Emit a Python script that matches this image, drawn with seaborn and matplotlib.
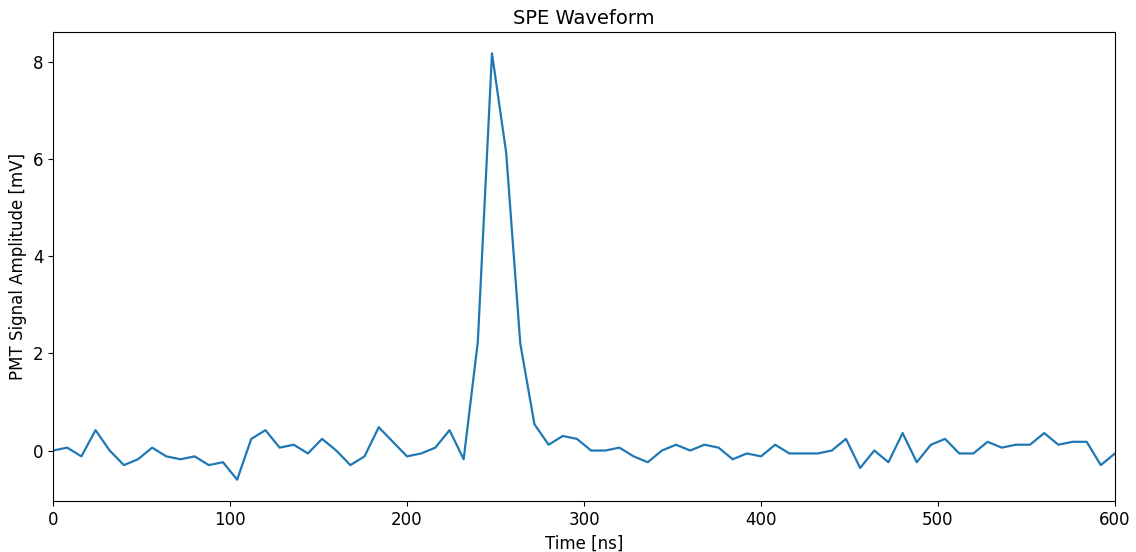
import numpy as np
import pandas as pd
import seaborn as sns
import matplotlib
matplotlib.use("Agg")
import matplotlib.pyplot as plt

time_ns = list(range(0, 601, 8))
amplitude_mv = [
    0.0, 0.06, -0.12, 0.42, 0.0, -0.3, -0.18, 0.06, -0.12, -0.18,
    -0.12, -0.3, -0.24, -0.6, 0.24, 0.42, 0.06, 0.12, -0.06, 0.24,
    0.0, -0.3, -0.12, 0.48, 0.18, -0.12, -0.06, 0.06, 0.42, -0.18,
    2.24, 8.18, 6.14, 2.2, 0.54, 0.12, 0.3, 0.24, 0.0, 0.0,
    0.06, -0.12, -0.24, 0.0, 0.12, 0.0, 0.12, 0.06, -0.18, -0.06,
    -0.12, 0.12, -0.06, -0.06, -0.06, 0.0, 0.24, -0.36, 0.0, -0.24,
    0.36, -0.24, 0.12, 0.24, -0.06, -0.06, 0.18, 0.06, 0.12, 0.12,
    0.36, 0.12, 0.18, 0.18, -0.3, -0.06,
]

df = pd.DataFrame({"Time [ns]": time_ns, "PMT Signal Amplitude [mV]": amplitude_mv})

fig, ax = plt.subplots(figsize=(11.36, 5.52), dpi=100)
sns.lineplot(data=df, x="Time [ns]", y="PMT Signal Amplitude [mV]", ax=ax, color="#1f77b4", linewidth=1.6)
ax.set_xlim(0, 600)
ax.set_title("SPE Waveform", fontsize=14)
ax.set_xlabel("Time [ns]", fontsize=12)
ax.set_ylabel("PMT Signal Amplitude [mV]", fontsize=12)
ax.tick_params(labelsize=12)
fig.subplots_adjust(left=0.0467, right=0.9815, top=0.942, bottom=0.0924)
fig.savefig("out.png", dpi=100)
